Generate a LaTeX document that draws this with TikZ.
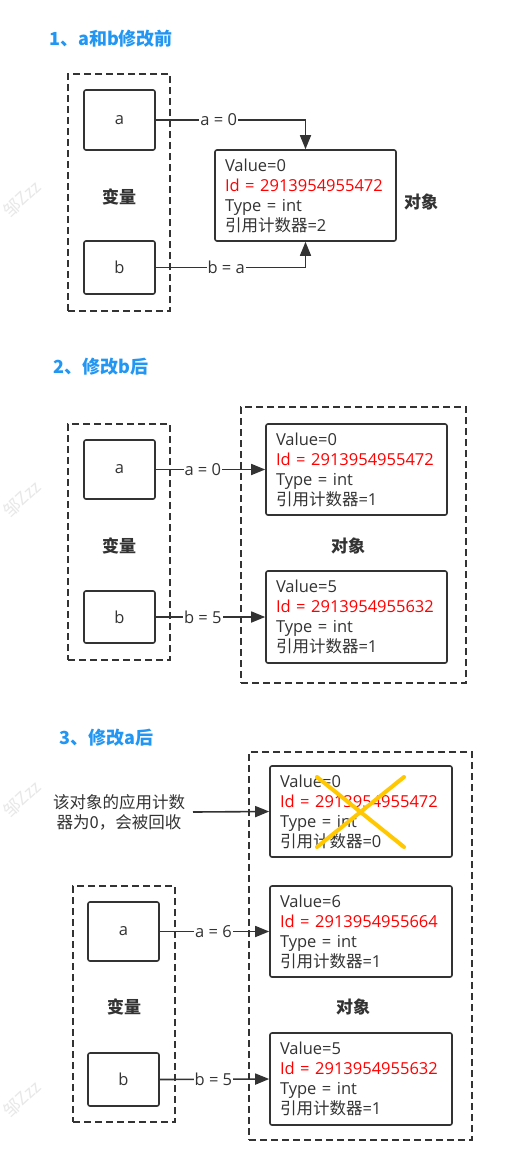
\documentclass[tikz,border=0pt]{standalone}
\usepackage{fontspec}
\setmainfont{Open Sans}
\newfontfamily\cjk{Noto Sans CJK SC}
\usetikzlibrary{arrows.meta}
\definecolor{ink}{HTML}{333333}
\definecolor{ttl}{HTML}{2196F3}
\definecolor{idred}{HTML}{FF0000}
\definecolor{xgold}{HTML}{FFC800}
\definecolor{wm}{HTML}{E8E8E8}
\newcommand{\cnt}[1]{{\cjk 引用计数器}=#1}
\begin{document}
\begin{tikzpicture}[x=1pt,y=-1pt,
  txt/.style={text=ink,font=\fontsize{16.5}{20}\selectfont},
  vbox/.style={draw=ink,line width=1.6pt,rounded corners=2pt,minimum width=71pt,inner sep=0pt,txt},
  obj/.style={draw=ink,line width=1.6pt,rounded corners=2pt,minimum width=181pt,minimum height=91pt,text width=161pt,align=left,inner xsep=10pt,inner ysep=0pt,txt},
  cont/.style={draw=ink,line width=1.5pt,dash pattern=on 7pt off 4pt,inner sep=0pt},
  bold/.style={text=ink,font=\fontsize{17}{20}\selectfont\cjk\bfseries},
  title/.style={text=ttl,font=\fontsize{18}{22}\selectfont\cjk\bfseries,anchor=west,inner sep=0pt},
  lbl/.style={fill=white,inner sep=1pt,txt},
  arr/.style={draw=ink,line width=1.6pt,-{Triangle[length=14pt,width=11pt]}},
  wmark/.style={text=wm,font=\fontsize{17}{20}\selectfont\cjk,rotate=43,anchor=east,inner sep=0pt}
]
\useasboundingbox[fill=white] (0,0) rectangle (506,1165);
% watermarks
\node[wmark] (w1) at (38,184) {邹Zzz};
\node[wmark] (w2) at (38,484) {邹Zzz};
\node[wmark] (w3) at (38,784) {邹Zzz};
\node[wmark] (w4) at (38,1084) {邹Zzz};

% ---------- section 1 ----------
\node[title] (t1) at (49,39) {1、a和b修改前};
\node[cont,minimum width=102pt,minimum height=237pt] (v1) at (119,192.5) {};
\node[vbox,minimum height=60pt] (a1) at (119.5,120) {a};
\node[vbox,minimum height=53pt] (b1) at (119.5,267.5) {b};
\node[bold] (vl1) at (119,197) {变量};
\node[obj] (o1) at (305.5,195.5) {Value=0\\\textcolor{idred}{Id = 2913954955472}\\Type = int\\\cnt{2}};
\node[bold] (ol1) at (421,202) {对象};
\draw[arr] (a1.east) -| node[lbl,pos=0.21]{a = 0} (o1.north);
\draw[arr] (b1.east) -| node[lbl,pos=0.235]{b = a} (o1.south);

% ---------- section 2 ----------
\node[title] (t2) at (53,367) {2、修改b后};
\node[cont,minimum width=102pt,minimum height=236pt] (v2) at (119,542) {};
\node[vbox,minimum height=59pt] (a2) at (119.5,469.5) {a};
\node[vbox,minimum height=52pt] (b2) at (119.5,617) {b};
\node[bold] (vl2) at (119,546) {变量};
\node[cont,minimum width=225pt,minimum height=276pt] (c2) at (353.5,545) {};
\node[obj] (o21) at (356.5,469.5) {Value=0\\\textcolor{idred}{Id = 2913954955472}\\Type = int\\\cnt{1}};
\node[obj,minimum height=92pt] (o22) at (356.5,617) {Value=5\\\textcolor{idred}{Id = 2913954955632}\\Type = int\\\cnt{1}};
\node[bold] (ol2) at (348,546) {对象};
\draw[arr] (a2.east) -- node[lbl,pos=0.43]{a = 0} (o21.west);
\draw[arr] (b2.east) -- node[lbl,pos=0.43]{b = 5} (o22.west);

% ---------- section 3 ----------
\node[title] (t3) at (59,738) {3、修改a后};
\node[txt,align=center,font=\fontsize{16.5}{20}\selectfont\cjk] (note) at (119,812) {该对象的应用计数\\器为0，会被回收};
\coordinate (ns) at (193,812);
\node[cont,minimum width=223pt,minimum height=388pt] (c3) at (360.5,946) {};
\node[obj,minimum width=182pt,text width=162pt] (o31) at (361,811.5) {Value=0\\\textcolor{idred}{Id = 2913954955472}\\Type = int\\\cnt{0}};
\node[obj,minimum width=182pt,text width=162pt] (o32) at (361,931.5) {Value=6\\\textcolor{idred}{Id = 2913954955664}\\Type = int\\\cnt{1}};
\node[obj,minimum width=182pt,text width=162pt,minimum height=92pt] (o33) at (361,1079) {Value=5\\\textcolor{idred}{Id = 2913954955632}\\Type = int\\\cnt{1}};
\node[bold] (ol3) at (353,1007) {对象};
\node[cont,minimum width=102pt,minimum height=236pt] (v3) at (124,1004) {};
\node[vbox,minimum height=59pt] (a3) at (123.5,931.5) {a};
\node[vbox,minimum height=53pt] (b3) at (123.5,1079.5) {b};
\node[bold] (vl3) at (124,1007) {变量};
\draw[arr] (ns) -- (o31.west);
\draw[arr] (a3.east) -- node[lbl,pos=0.49]{a = 6} (o32.west);
\draw[arr] (b3.east) -- node[lbl,pos=0.49]{b = 5} (o33.west);
% cross
\draw[xgold,line width=4pt,line cap=round] (317,777) -- (404,847);
\draw[xgold,line width=4pt,line cap=round] (404,777) -- (317,847);
\end{tikzpicture}
\end{document}
